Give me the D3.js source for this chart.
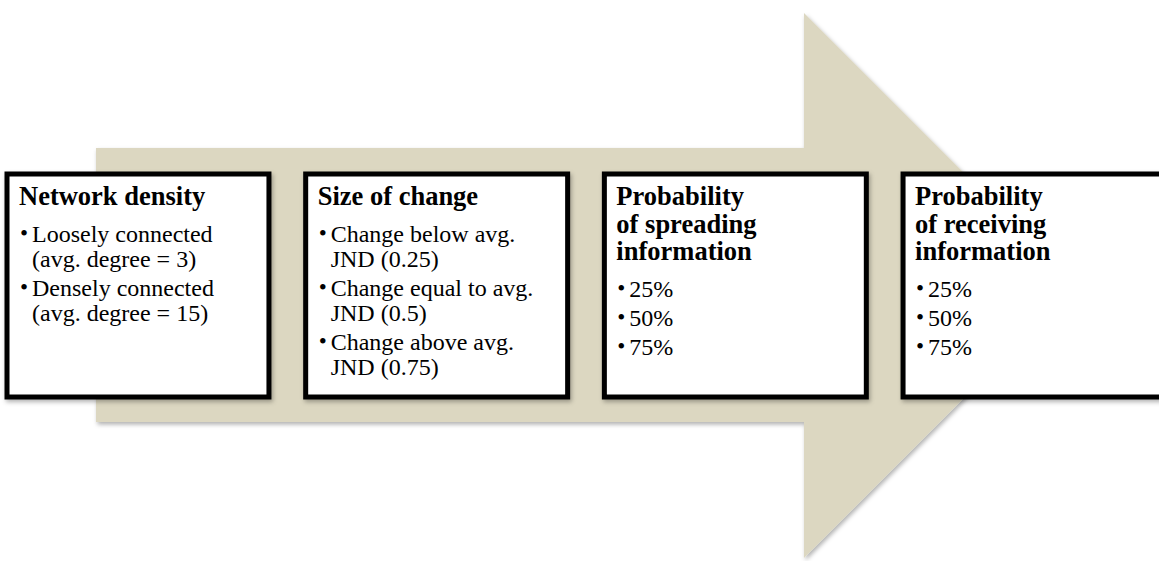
<!DOCTYPE html>
<html><head><meta charset="utf-8">
<script src="https://cdn.jsdelivr.net/npm/d3@7"></script>
<style>html,body{margin:0;padding:0;background:#fff;overflow:hidden}</style>
</head><body>
<svg id="c" width="1159" height="561"></svg>
<script>
const stages = ["density", "size", "spread", "receive"];
const titles = [
  ["Network density"],
  ["Size of change"],
  ["Probability", "of spreading", "information"],
  ["Probability", "of receiving", "information"]
];
const bullets = [
  [["Loosely connected", "(avg. degree = 3)"], ["Densely connected", "(avg. degree = 15)"]],
  [["Change below avg.", "JND (0.25)"], ["Change equal to avg.", "JND (0.5)"], ["Change above avg.", "JND (0.75)"]],
  [["25%"], ["50%"], ["75%"]],
  [["25%"], ["50%"], ["75%"]]
];

const svg = d3.select("#c");
const defs = svg.append("defs");
const f = defs.append("filter").attr("id","sh").attr("x","-5%").attr("y","-5%").attr("width","115%").attr("height","115%");
f.append("feDropShadow").attr("dx",1.5).attr("dy",2.5).attr("stdDeviation",2).attr("flood-color","#000").attr("flood-opacity",0.3);

// arrow
const shaftX0 = 96, shaftTop = 148, shaftBot = 422, headX = 804, headTop = 13, headBot = 558;
const tipY = (headTop + headBot) / 2, tipX = headX + (headBot - headTop) / 2;
const arrow = d3.path();
arrow.moveTo(shaftX0, shaftTop);
arrow.lineTo(headX, shaftTop);
arrow.lineTo(headX, headTop);
arrow.lineTo(tipX, tipY);
arrow.lineTo(headX, headBot);
arrow.lineTo(headX, shaftBot);
arrow.lineTo(shaftX0, shaftBot);
arrow.closePath();
svg.append("path").attr("d", arrow.toString()).attr("fill","#dcd7c1").attr("filter","url(#sh)");

// boxes
const x = d3.scaleBand().domain(stages).range([7, 1165]).paddingInner(0.123).paddingOuter(0);
const boxTop = 174, boxH = 223;
const g = svg.selectAll("g.box").data(stages).join("g").attr("class","box")
  .attr("transform", d => `translate(${x(d)},${boxTop})`);
g.append("rect").attr("width", x.bandwidth()).attr("height", boxH)
  .attr("fill","#fff").attr("stroke","#000").attr("stroke-width",5).attr("filter","url(#sh)");

const font = "'Liberation Serif','Times New Roman',Times,serif";
g.each(function(d, i) {
  const gg = d3.select(this);
  let y = 31;
  titles[i].forEach((t, k) => {
    gg.append("text").attr("x", 12).attr("y", y).text(t)
      .attr("font-family", font).attr("font-weight","bold").attr("font-size", 26.5).attr("fill","#000");
    y += 27.5;
  });
  y = y - 27.5 + 37;
  bullets[i].forEach(item => {
    item.forEach((line, k) => {
      if (k === 0) {
        gg.append("text").attr("x", 13).attr("y", y - 1).text("•")
          .attr("font-family", font).attr("font-size", 23).attr("fill","#000");
      }
      gg.append("text").attr("x", 25).attr("y", y).text(line)
        .attr("font-family", font).attr("font-size", 24).attr("fill","#000");
      y += (k < item.length - 1) ? 25 : 29;
    });
  });
});
</script>
</body></html>
